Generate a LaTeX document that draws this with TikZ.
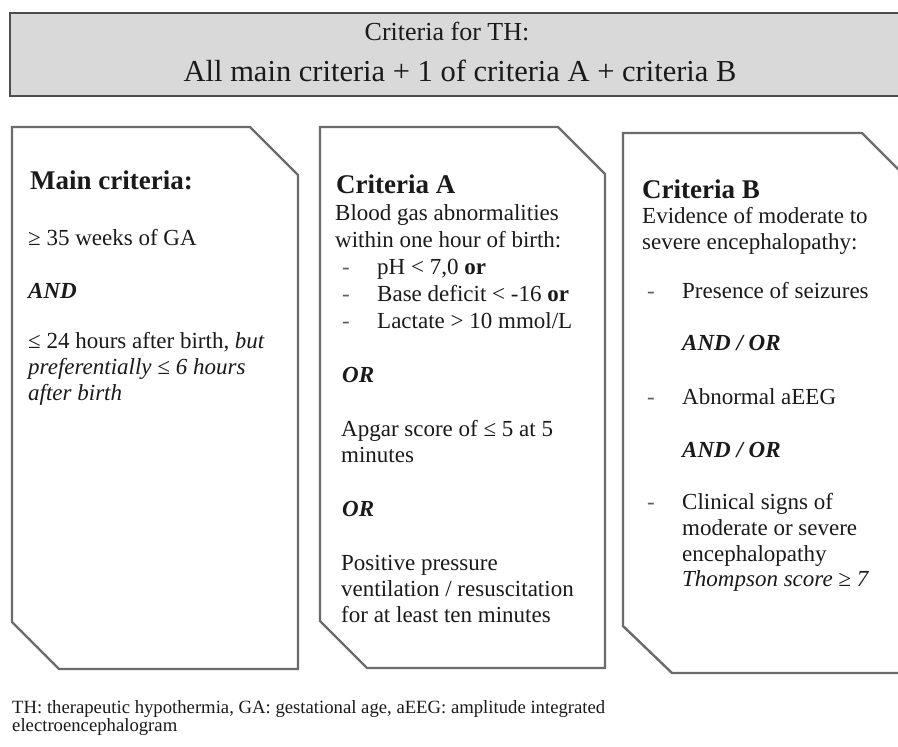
\documentclass[tikz,border=0pt]{standalone}
\usepackage{fontspec}
\setmainfont{Liberation Serif}
\definecolor{txt}{HTML}{1A1A1A}
\definecolor{boxgray}{HTML}{6B6B6B}
\definecolor{banfill}{HTML}{D9D9D9}
\definecolor{banline}{HTML}{4D4D4D}
\begin{document}
\begin{tikzpicture}[x=1pt,y=-1pt,
  body/.style={anchor=base west, inner sep=0pt, text=txt, font=\fontsize{23}{25}\selectfont},
  head/.style={body, font=\fontsize{27}{30}\selectfont\bfseries},
  bi/.style={body, font=\fontsize{23}{25}\selectfont\bfseries\itshape},
  dashmark/.style={body, text=txt!70},
  capt/.style={body, font=\fontsize{18.7}{20}\selectfont},
  crit/.style={draw=boxgray, line width=2.4pt, line join=miter, fill=white},
  bannerline/.style={draw=banline, line width=2.8pt},
]
\useasboundingbox (0,0) rectangle (898,747);
\fill[white] (0,0) rectangle (898,747);
\begin{scope}
\clip (0,0) rectangle (898,747);
% banner
\fill[banfill] (10,13) rectangle (898,96);
\draw[bannerline] (898,13) -- (10,13) -- (10,96) -- (898,96);
% boxes
\draw[crit] (12,127) -- (250,127) -- (298,175) -- (298,669) -- (59,669) -- (12,622) -- cycle;
\draw[crit] (320,127) -- (558,127) -- (605,174) -- (605,668) -- (367,668) -- (320,621) -- cycle;
\draw[crit] (623,133) -- (862,133) -- (910,181) -- (910,673) -- (672,673) -- (623,626) -- cycle;
\end{scope}

\node[anchor=base, inner sep=0pt, text=txt, font=\fontsize{26}{28}\selectfont] (ban1) at (447,40) {Criteria for TH:};
\node[anchor=base, inner sep=0pt, text=txt, font=\fontsize{30.5}{33}\selectfont] (ban2) at (460,81) {All main criteria + 1 of criteria A + criteria B};

% main criteria
\node[head] (mh) at (30,189) {Main criteria:};
\node[body] (m1) at (28,245) {≥ 35 weeks of GA};
\node[bi]   (m2) at (28,298) {AND};
\node[body] (m3) at (28,348) {≤ 24 hours after birth, \textit{but}};
\node[body] (m4) at (28,374) {\textit{preferentially ≤ 6 hours}};
\node[body] (m5) at (28,400) {\textit{after birth}};

% criteria A
\node[head] (ah) at (336,193) {Criteria A};
\node[body] (a1) at (335,220) {Blood gas abnormalities};
\node[body] (a2) at (335,247) {within one hour of birth:};
\node[dashmark] (ad1) at (342,274) {-};
\node[body] (a3) at (377,274) {pH < 7,0 \textbf{or}};
\node[dashmark] (ad2) at (342,301) {-};
\node[body] (a4) at (377,301) {Base deficit < -16 \textbf{or}};
\node[dashmark] (ad3) at (342,328) {-};
\node[body] (a5) at (377,328) {Lactate > 10 mmol/L};
\node[bi]   (a6) at (342,382) {OR};
\node[body] (a7) at (341,436) {Apgar score of ≤ 5 at 5};
\node[body] (a8) at (341,462) {minutes};
\node[bi]   (a9) at (342,516) {OR};
\node[body] (a10) at (341,570) {Positive pressure};
\node[body] (a11) at (341,596) {ventilation / resuscitation};
\node[body] (a12) at (341,622) {for at least ten minutes};

% criteria B
\node[head] (bh) at (642,198) {Criteria B};
\node[body] (b1) at (642,223) {Evidence of moderate to};
\node[body] (b2) at (642,249) {severe encephalopathy:};
\node[dashmark] (bd1) at (647,298) {-};
\node[body] (b3) at (682,298) {Presence of seizures};
\node[bi]   (b4) at (682,350) {AND / OR};
\node[dashmark] (bd2) at (647,404) {-};
\node[body] (b5) at (682,404) {Abnormal aEEG};
\node[bi]   (b6) at (682,457) {AND / OR};
\node[dashmark] (bd3) at (647,509) {-};
\node[body] (b7) at (682,509) {Clinical signs of};
\node[body] (b8) at (682,535) {moderate or severe};
\node[body] (b9) at (682,561) {encephalopathy};
\node[body] (b10) at (682,586) {\textit{Thompson score ≥ 7}};

% caption
\node[capt] (c1) at (12,713) {TH: therapeutic hypothermia, GA: gestational age, aEEG: amplitude integrated};
\node[capt] (c2) at (12,731) {electroencephalogram};
\end{tikzpicture}
\end{document}
